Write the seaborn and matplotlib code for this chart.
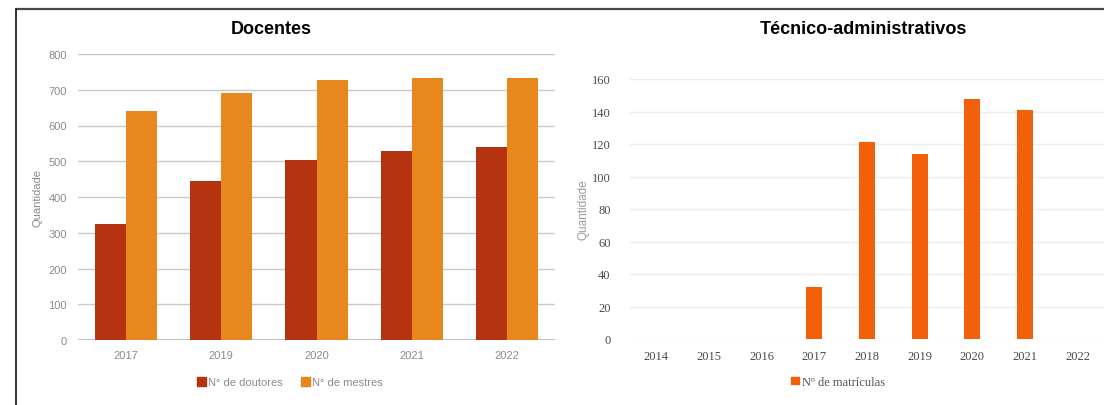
import matplotlib
matplotlib.use("Agg")
import matplotlib.pyplot as plt
import seaborn as sns
import pandas as pd
from matplotlib.lines import Line2D
from matplotlib.patches import Patch

# Docentes: titulação por ano
anos_docentes = ["2017", "2019", "2020", "2021", "2022"]
doutores = [324, 444, 504, 528, 539]
mestres = [641, 690, 728, 733, 733]
series_docentes = ["N° de doutores", "N° de mestres"]

# Técnico-administrativos: matrículas por ano
anos_tecnicos = ["2014", "2015", "2016", "2017", "2018", "2019", "2020", "2021", "2022"]
matriculas = [0, 0, 0, 32, 121, 114, 148, 141, 0]
serie_tecnicos = "Nº de matrículas"

cor_doutores = "#b5330f"
cor_mestres = "#e8881c"
cor_matriculas = "#f2600a"

sns.set_theme(style="white")
plt.rcParams["font.family"] = ["Liberation Sans", "DejaVu Sans"]
serif = ["Liberation Serif", "DejaVu Serif"]

W, H = 1104, 406
fig = plt.figure(figsize=(W / 100, H / 100), dpi=100)
fig.patch.set_facecolor("white")


def box(x0, y_top, x1, y_bottom):
    return [x0 / W, 1 - y_bottom / H, (x1 - x0) / W, (y_bottom - y_top) / H]


# ---------- Docentes ----------
df_doc = pd.DataFrame({
    "ano": anos_docentes * 2,
    "valor": doutores + mestres,
    "serie": [series_docentes[0]] * len(anos_docentes) + [series_docentes[1]] * len(anos_docentes),
})
ax1 = fig.add_axes(box(78, 55, 555, 341))
sns.barplot(data=df_doc, x="ano", y="valor", hue="serie", ax=ax1,
            palette=[cor_doutores, cor_mestres], width=0.65, gap=0,
            saturation=1, legend=False, edgecolor="none")
ax1.set_ylim(0, 800)
ax1.set_xlim(-0.5, len(anos_docentes) - 0.5)
ax1.set_yticks(range(0, 801, 100))
ax1.yaxis.grid(True, color="#c9c9c9", linewidth=1.0)
ax1.set_axisbelow(True)
for s in ax1.spines.values():
    s.set_visible(False)
ax1.tick_params(axis="both", length=0, labelsize=8, colors="#8a8a8a", pad=7)
ax1.tick_params(axis="y", pad=8)
ax1.set_xlabel("")
ax1.set_ylabel("Quantidade", fontsize=8, color="#8a8a8a", labelpad=4)
ax1.axhline(0, color="#b0b0b0", linewidth=1.2, zorder=0.5)
ax1.legend(handles=[Patch(color=cor_doutores, label=series_docentes[0]),
                    Patch(color=cor_mestres, label=series_docentes[1])],
           loc="center", bbox_to_anchor=((290 - 78) / (555 - 78), -0.148), ncol=2,
           frameon=False, fontsize=8, handlelength=0.8, handleheight=0.8,
           handletextpad=0.2, columnspacing=1.6, labelcolor="#8a8a8a")
fig.text(271 / W, 1 - 30 / H, "Docentes", ha="center", va="center",
         fontsize=13, fontweight="bold", color="black")

# ---------- Técnico-administrativos ----------
df_tec = pd.DataFrame({"ano": anos_tecnicos, "valor": matriculas})
ax2 = fig.add_axes(box(630, 80, 1104 + 6, 340))
sns.barplot(data=df_tec, x="ano", y="valor", ax=ax2, color=cor_matriculas,
            width=0.30, saturation=1, edgecolor="none")
ax2.set_ylim(0, 160)
ax2.set_xlim(-0.5, 8.5 + 6 / 53)
ax2.set_yticks(range(0, 161, 20))
ax2.yaxis.grid(True, color="#ececec", linewidth=1.0)
ax2.set_axisbelow(True)
for s in ax2.spines.values():
    s.set_visible(False)
ax2.tick_params(axis="both", length=0, labelsize=9, colors="#4a4a4a", pad=8)
ax2.tick_params(axis="y", pad=14)
for lab in ax2.get_xticklabels() + ax2.get_yticklabels():
    lab.set_fontfamily(serif)
ax2.set_xlabel("")
ax2.set_ylabel("Quantidade", fontsize=8.5, color="#9a9a9a", labelpad=2)
ax2.legend(handles=[Patch(color=cor_matriculas, label=serie_tecnicos)],
           loc="center left", bbox_to_anchor=((780 - 630) / (1110 - 630), -0.165),
           frameon=False, handlelength=0.6, handleheight=0.6,
           handletextpad=0.3, labelcolor="#555555",
           prop={"family": serif, "size": 9})
fig.text(863 / W, 1 - 30 / H, "Técnico-administrativos", ha="center", va="center",
         fontsize=13, fontweight="bold", color="black")

# Moldura externa
fig.add_artist(Line2D([16 / W, 1.0], [1 - 10 / H, 1 - 10 / H], color="#4a4a4a",
                      linewidth=1.6, transform=fig.transFigure))
fig.add_artist(Line2D([16 / W, 16 / W], [0, 1 - 10 / H], color="#111111",
                      linewidth=1.2, transform=fig.transFigure))

fig.savefig("out.png", dpi=100, facecolor="white")
